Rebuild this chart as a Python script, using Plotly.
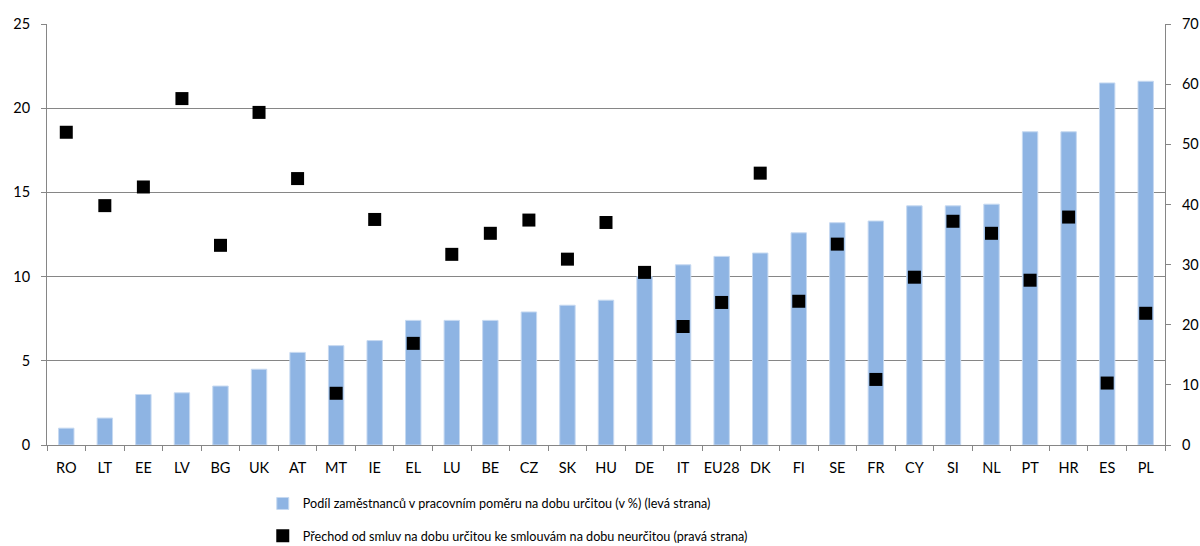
import plotly.graph_objects as go

# kategorie (zeme)
zeme = ['RO', 'LT', 'EE', 'LV', 'BG', 'UK', 'AT', 'MT', 'IE', 'EL', 'LU', 'BE', 'CZ', 'SK', 'HU',
        'DE', 'IT', 'EU28', 'DK', 'FI', 'SE', 'FR', 'CY', 'SI', 'NL', 'PT', 'HR', 'ES', 'PL']

# podil zamestnancu na dobu urcitou (leva osa)
podil = [1.0, 1.6, 3.0, 3.1, 3.5, 4.5, 5.5, 5.9, 6.2, 7.4, 7.4, 7.4, 7.9, 8.3, 8.6,
         10.0, 10.7, 11.2, 11.4, 12.6, 13.2, 13.3, 14.2, 14.2, 14.3, 18.6, 18.6, 21.5, 21.6]

# prechod na dobu neurcitou (prava osa)
prechod = [52.0, 39.8, 42.9, 57.6, 33.2, 55.3, 44.3, 8.6, 37.5, 16.9, 31.7, 35.2, 37.4, 30.9, 37.0,
           28.7, 19.7, 23.7, 45.2, 23.9, 33.4, 10.9, 27.9, 37.2, 35.2, 27.4, 37.9, 10.3, 21.9]

nazev_podil = 'Podíl zaměstnanců v pracovním poměru na dobu určitou (v %) (levá strana)'
nazev_prechod = 'Přechod od smluv na dobu určitou ke smlouvám na dobu neurčitou (pravá strana)'

seda = '#868686'

fig = go.Figure()

fig.add_trace(go.Bar(x=zeme, y=podil, name=nazev_podil, legendgroup='a',
                     marker=dict(color='#8EB4E3', line=dict(color='#C6D9F1', width=1))))

fig.add_trace(go.Scatter(x=zeme, y=prechod, name=nazev_prechod, legendgroup='b', yaxis='y2',
                         mode='markers', marker=dict(symbol='square', size=13, color='black')))

osa = dict(showline=True, linecolor=seda, ticks='outside', tickcolor=seda, ticklen=5,
           automargin=False, tickfont=dict(size=14.5))

fig.update_layout(
    width=1200, height=546,
    margin=dict(l=47, r=35, t=24, b=101, autoexpand=False),
    plot_bgcolor='white', paper_bgcolor='white',
    font=dict(family='Lato', size=13, color='black'),
    bargap=0.6,
    showlegend=True,
    legend=dict(orientation='v', x=0.193, xanchor='left', y=-0.104, yanchor='top',
                traceorder='grouped', tracegroupgap=13, font=dict(size=12.6)),
    xaxis=dict(type='category', range=[-0.5, len(zeme) - 0.5], tickangle=0,
               tickson='boundaries', showgrid=False, ticklabelstandoff=10, **osa),
    yaxis=dict(range=[0, 25], dtick=5, showgrid=True, gridcolor=seda, gridwidth=1,
               zeroline=False, ticklabelstandoff=8, **osa),
    yaxis2=dict(range=[0, 70], dtick=10, overlaying='y', side='right', showgrid=False,
                zeroline=False, ticklabelstandoff=8, **osa),
)

# bez okraje stranky, aby graf zaplnil cele okno
fig.write_html("out.html", config={'displayModeBar': False},
               post_script="document.body.style.margin='0';")
